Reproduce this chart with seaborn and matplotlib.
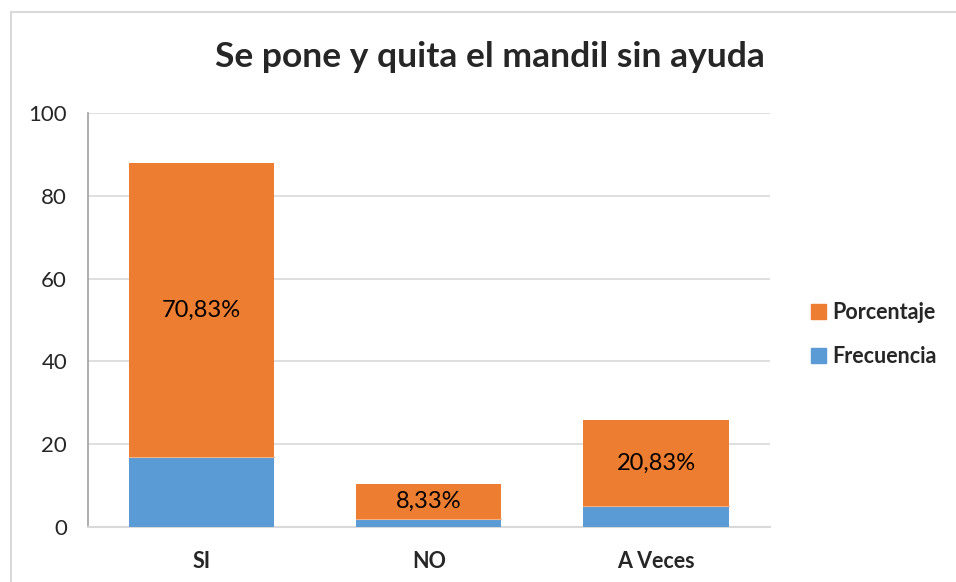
import pandas as pd
import numpy as np
import matplotlib
matplotlib.use('Agg')
import matplotlib.pyplot as plt
import matplotlib.patches as mpatches
import seaborn as sns

categorias = ['SI', 'NO', 'A Veces']
frecuencia = [17, 2, 5]
porcentaje = [70.83, 8.33, 20.83]
etiquetas = ['70,83%', '8,33%', '20,83%']

azul = '#5B9BD5'
naranja = '#ED7D31'

sns.set_style('white')
plt.rcParams['font.family'] = ['Lato', 'DejaVu Sans']

df = pd.DataFrame({'Categoria': categorias, 'Frecuencia': frecuencia, 'Porcentaje': porcentaje})
df['Total'] = df['Frecuencia'] + df['Porcentaje']

fig = plt.figure(figsize=(9.56, 5.82), dpi=100)
ax = fig.add_axes([0.092, 0.0945, 0.713, 0.7115])

# orange on bottom as total, blue drawn over it
sns.barplot(x='Categoria', y='Total', data=df, color=naranja, width=0.64,
            ax=ax, saturation=1, edgecolor='none', zorder=3)
sns.barplot(x='Categoria', y='Frecuencia', data=df, color=azul, width=0.64,
            ax=ax, saturation=1, edgecolor='none', zorder=4)

# thin separator between segments
for i, f in enumerate(frecuencia):
    ax.plot([i - 0.32, i + 0.32], [f, f], color='#F4B183', lw=0.8, zorder=5)

for i in range(len(categorias)):
    y = frecuencia[i] + porcentaje[i] / 2
    ax.text(i, y, etiquetas[i], ha='center', va='center', fontsize=17, color='black', zorder=6)

ax.set_ylim(0, 100)
ax.set_xlim(-0.5, 2.5)
ax.set_yticks([0, 20, 40, 60, 80, 100])
ax.yaxis.grid(True, color='#d9d9d9', lw=1.2, zorder=0)
ax.set_axisbelow(True)
ax.set_xlabel('')
ax.set_ylabel('')
ax.tick_params(axis='y', labelsize=16, length=0, pad=15)
ax.tick_params(axis='x', labelsize=15.5, length=0, pad=17)
for lbl in ax.get_xticklabels():
    lbl.set_fontweight('bold')
for s in ['top', 'right']:
    ax.spines[s].set_visible(False)
ax.spines['left'].set_color('#a0a0a0')
ax.spines['left'].set_linewidth(1.2)
ax.spines['bottom'].set_color('#d9d9d9')
ax.spines['bottom'].set_linewidth(1.5)

fig.text(0.512, 0.902, 'Se pone y quita el mandil sin ayuda', ha='center', va='center',
         fontsize=25.5, fontweight='bold')

handles = [mpatches.Patch(color=naranja, label='Porcentaje'),
           mpatches.Patch(color=azul, label='Frecuencia')]
leg = fig.legend(handles=handles, loc='center left', bbox_to_anchor=(0.828, 0.425),
                 frameon=False, prop={'weight': 'bold', 'size': 15.5},
                 handlelength=0.7, handleheight=0.7, handletextpad=0.3, labelspacing=1.1)

# light frame around the chart
fig.patches.append(mpatches.Rectangle((0.011, -0.01), 1.2, 0.99, transform=fig.transFigure,
                                      fill=False, edgecolor='#d9d9d9', lw=1.5))

plt.savefig('out.png', dpi=100)
